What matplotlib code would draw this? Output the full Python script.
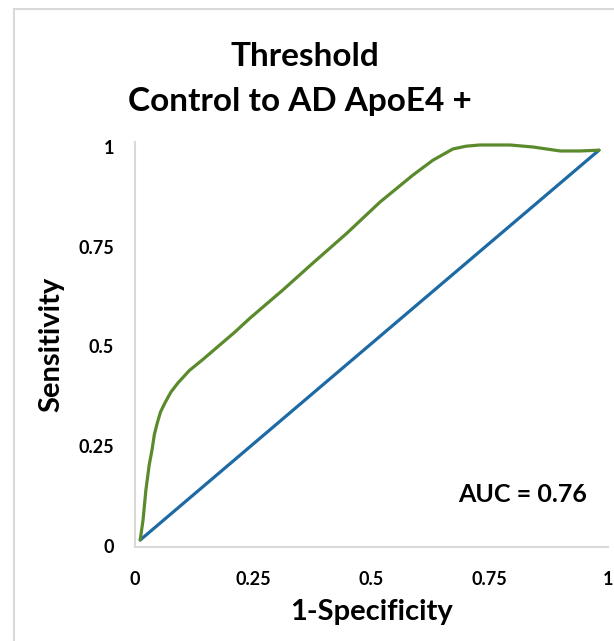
import matplotlib
matplotlib.use("Agg")
import matplotlib.pyplot as plt
from matplotlib.lines import Line2D

plt.rcParams['font.family'] = ['Lato', 'DejaVu Sans']

# Data
title_lines = ["Threshold", "Control to AD ApoE4 +"]
x_label = "1-Specificity"
y_label = "Sensitivity"
ticks = [0, 0.25, 0.5, 0.75, 1]
tick_labels = ["0", "0.25", "0.5", "0.75", "1"]

roc_fpr = [0.011, 0.017, 0.023, 0.030, 0.036, 0.041, 0.047, 0.054, 0.063, 0.076,
           0.091, 0.115, 0.142, 0.211, 0.243, 0.313, 0.376, 0.448, 0.518, 0.588,
           0.630, 0.672, 0.700, 0.729, 0.793, 0.841, 0.899, 0.941, 0.981]
roc_tpr = [0.015, 0.065, 0.140, 0.203, 0.241, 0.280, 0.308, 0.336, 0.358, 0.386,
           0.409, 0.440, 0.466, 0.536, 0.571, 0.642, 0.709, 0.784, 0.862, 0.930,
           0.967, 0.995, 1.002, 1.005, 1.005, 1.000, 0.990, 0.990, 0.992]

ref_x = [0.011, 0.981]
ref_y = [0.015, 0.992]

auc_text = "AUC = 0.76"

fig = plt.figure(figsize=(6.14, 6.41), dpi=100)
ax = fig.add_axes([135/614, 1-547/641, (608-135)/614, (547-142)/641])

ax.plot(ref_x, ref_y, color='#1d6aa5', lw=2.3, solid_capstyle='round')
ax.plot(roc_fpr, roc_tpr, color='#5b8a2d', lw=2.3, solid_capstyle='round',
        solid_joinstyle='round')

ax.set_xlim(0, 1)
ax.set_ylim(-0.0025, 1.0125)
ax.set_xticks(ticks)
ax.set_xticklabels(tick_labels)
ax.set_yticks(ticks)
ax.set_yticklabels(tick_labels)
ax.tick_params(length=0, labelsize=13)
for lab in ax.get_xticklabels() + ax.get_yticklabels():
    lab.set_fontweight('bold')
ax.tick_params(axis='x', pad=17)
ax.tick_params(axis='y', pad=15)

for s in ['top', 'right']:
    ax.spines[s].set_visible(False)
for s in ['left', 'bottom']:
    ax.spines[s].set_color('#d9d9d9')
    ax.spines[s].set_linewidth(1.5)

ax.set_xlabel(x_label, fontsize=21, fontweight='bold', labelpad=8)
ax.set_ylabel(y_label, fontsize=21, fontweight='bold', labelpad=10)

ax.text(0.82, 0.128, auc_text, fontsize=18, fontweight='bold',
        ha='center', va='center', transform=ax.transData)

fig.text(305/614, 1 - 56/641, title_lines[0], fontsize=24, fontweight='bold',
         ha='center', va='center')
fig.text(300/614, 1 - 101/641, title_lines[1], fontsize=24, fontweight='bold',
         ha='center', va='center')

# light gray chart-area frame
fig.add_artist(Line2D([14/614, 14/614], [0, 1 - 9/641], transform=fig.transFigure,
                      color='#d9d9d9', lw=1.5))
fig.add_artist(Line2D([14/614, 1], [1 - 9/641, 1 - 9/641], transform=fig.transFigure,
                      color='#d9d9d9', lw=1.5))

fig.savefig("out.png", dpi=100, facecolor='white')
